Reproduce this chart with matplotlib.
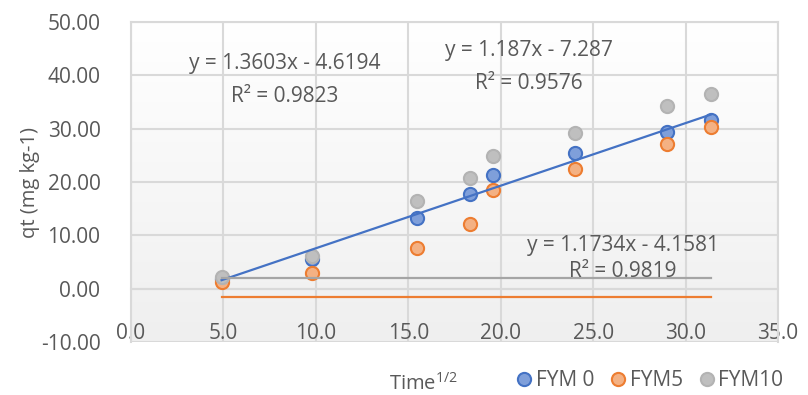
import matplotlib.pyplot as plt
import numpy as np
from matplotlib.lines import Line2D
from matplotlib.colors import LinearSegmentedColormap

plt.rcParams['font.family'] = ['Open Sans', 'DejaVu Sans']
plt.rcParams['mathtext.fontset'] = 'custom'
plt.rcParams['mathtext.rm'] = 'Open Sans'
plt.rcParams['mathtext.it'] = 'Open Sans'

# sqrt(time) values
time_sqrt = [4.9, 9.8, 15.49, 18.33, 19.6, 24.0, 28.98, 31.37]
fym0 = [1.9, 5.5, 13.3, 17.8, 21.4, 25.4, 29.3, 31.6]
fym5 = [1.3, 2.9, 7.6, 12.1, 18.5, 22.5, 27.2, 30.4]
fym10 = [2.2, 6.2, 16.4, 20.8, 24.8, 29.2, 34.2, 36.5]

# trendline (FYM 0) and the two flat lines as shown
slope0, icpt0 = 1.1734, -4.1581
flat_grey = 2.05
flat_orange = -1.5

eq_labels = ['y = 1.3603x - 4.6194', 'R\u00b2 = 0.9823',
             'y = 1.187x - 7.287', 'R\u00b2 = 0.9576',
             'y = 1.1734x - 4.1581', 'R\u00b2 = 0.9819']

txt = '#595959'
fig = plt.figure(figsize=(8.08, 3.95), dpi=100)
ax = fig.add_axes([131/808, 1-342/395, 647/808, 320/395])

# gradient background
grad = np.linspace(0, 1, 256).reshape(-1, 1)
cmap = LinearSegmentedColormap.from_list('g', ['#ffffff', '#efefef'])
ax.imshow(grad, extent=[0, 35, -10, 50], aspect='auto', cmap=cmap, origin='upper', zorder=0)
ax.set_xlim(0, 35)
ax.set_ylim(-10, 50)

ax.set_xticks(np.arange(0, 36, 5))
ax.set_yticks(np.arange(-10, 51, 10))
ax.set_xticklabels(['%.1f' % v for v in np.arange(0, 36, 5)])
ax.set_yticklabels(['%.2f' % v for v in np.arange(-10, 51, 10)])
ax.grid(True, color='#d9d9d9', linewidth=1.5, zorder=1)
ax.set_axisbelow(True)
for s in ax.spines.values():
    s.set_color('#d9d9d9')
    s.set_linewidth(1.5)
ax.spines['bottom'].set_position(('data', 0))
ax.tick_params(length=0, colors=txt, labelsize=15)
ax.tick_params(axis='x', pad=25)
ax.tick_params(axis='y', pad=22)

ms = 90
ax.scatter(time_sqrt, fym0, s=ms, c='#7f9fda', edgecolors='#4472c4', linewidths=1.5, zorder=3)
ax.scatter(time_sqrt, fym5, s=ms, c='#f4b183', edgecolors='#ed7d31', linewidths=1.5, zorder=3)
ax.scatter(time_sqrt, fym10, s=ms, c='#bfbfbf', edgecolors='#b3b3b3', linewidths=1.5, zorder=3)

xl = np.array([time_sqrt[0], time_sqrt[-1]])
ax.plot(xl, slope0*xl + icpt0, color='#4472c4', lw=1.6, zorder=4)
ax.plot(xl, [flat_grey, flat_grey], color='#a5a5a5', lw=1.6, zorder=4)
ax.plot(xl, [flat_orange, flat_orange], color='#ed7d31', lw=1.6, zorder=4)

fs = 15
ax.text(8.3, 42.3, eq_labels[0], ha='center', va='center', fontsize=fs, color=txt, zorder=5)
ax.text(8.3, 36.0, eq_labels[1], ha='center', va='center', fontsize=fs, color=txt, zorder=5)
ax.text(21.5, 44.6, eq_labels[2], ha='center', va='center', fontsize=fs, color=txt, zorder=5)
ax.text(21.5, 38.4, eq_labels[3], ha='center', va='center', fontsize=fs, color=txt, zorder=5)
ax.text(26.6, 8.0, eq_labels[4], ha='center', va='center', fontsize=fs, color=txt, zorder=5)
ax.text(26.6, 3.2, eq_labels[5], ha='center', va='center', fontsize=fs, color=txt, zorder=5)

fig.text(30/808, 1-182/395, 'qt (mg kg-1)', rotation=90, ha='center', va='center', fontsize=14.5, color=txt)
fig.text(423/808, 1-384/395, 'Time$^{1/2}$', ha='center', va='center', fontsize=14.5, color=txt)

handles = [Line2D([], [], ls='', marker='o', ms=9.5, mfc='#7f9fda', mec='#4472c4', mew=1.5),
           Line2D([], [], ls='', marker='o', ms=9.5, mfc='#f4b183', mec='#ed7d31', mew=1.5),
           Line2D([], [], ls='', marker='o', ms=9.5, mfc='#bfbfbf', mec='#b3b3b3', mew=1.5)]
leg = fig.legend(handles, ['FYM 0', 'FYM5', 'FYM10'], loc='center', bbox_to_anchor=(648/808, 1-381/395),
                 ncol=3, frameon=False, handletextpad=0.0, columnspacing=0.6, fontsize=15,
                 handlelength=1.1, labelcolor=txt)

fig.savefig('out.png', dpi=100)
